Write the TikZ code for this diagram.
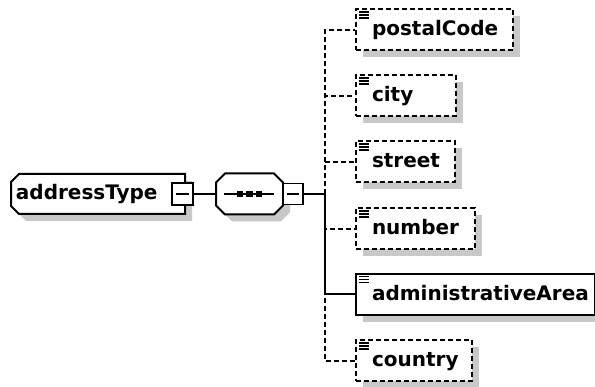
\documentclass[tikz,border=0pt]{standalone}
\usepackage{fontspec}
\setmainfont{DejaVu Sans}
\usetikzlibrary{shadows}
\definecolor{shadegray}{RGB}{200,200,200}
\begin{document}
\begin{tikzpicture}[x=1pt,y=-1pt,
  outline/.style={draw=black,fill=white,line width=2pt},
  shadeshape/.style={fill=shadegray},
  optline/.style={line width=1.9pt,dash pattern=on 5pt off 3pt},
  reqline/.style={line width=2pt},
  labelfont/.style={font=\fontsize{20}{23}\selectfont\bfseries},
  elembox/.style={labelfont,draw,fill=white,line width=2pt,
    inner xsep=0pt,inner ysep=0pt,minimum height=41pt,
    text height=15pt,text depth=3pt,align=left,anchor=west,
    execute at begin node={\hspace*{16pt}},
    drop shadow={shadow xshift=7pt,shadow yshift=-7pt,fill=shadegray,opacity=1,draw=none}},
  optbox/.style={elembox,dash pattern=on 5pt off 3pt},
  reqbox/.style={elembox},
  minusbox/.style={draw,fill=white,line width=1.8pt,inner sep=0pt},
  iconline/.style={line width=1.4pt}
]
\useasboundingbox (0,0) rectangle (595,387);

% complex type element with its shadow
\fill[shadeshape] (26,181) -- (192,181) -- (192,221) -- (26,221) -- (18,213) -- (18,189) -- cycle;
\path[outline] (19,174) -- (185,174) -- (185,214) -- (19,214) -- (11,206) -- (11,182) -- cycle;
\node[labelfont,inner sep=0pt,text width=174pt,minimum height=40pt,align=left,
      text height=15pt,text depth=3pt,execute at begin node={\hspace*{5pt}}]
      (addr) at (98,194) {addressType};
\node[minusbox,minimum width=21pt,minimum height=22pt] (addrminus) at (182.5,194) {};
\draw[line width=1.6pt] ([xshift=-6.5pt]addrminus.center) -- ([xshift=6.5pt]addrminus.center);

% sequence compositor with its shadow
\fill[shadeshape] (232,180.5) -- (281,180.5) -- (290,189.5) -- (290,212.5) -- (281,221.5) -- (232,221.5) -- (223,212.5) -- (223,189.5) -- cycle;
\path[outline] (225,173.5) -- (274,173.5) -- (283,182.5) -- (283,205.5) -- (274,214.5) -- (225,214.5) -- (216,205.5) -- (216,182.5) -- cycle;
\node[inner sep=0pt,minimum width=67pt,minimum height=41pt] (seq) at (249.5,194) {};
\draw[line width=1.8pt] ([xshift=-25.5pt]seq.center) -- ([xshift=24.5pt]seq.center);
\foreach \dx in {-9.5,0,9.5}
  \fill ([xshift=\dx pt]seq.center) ++(-3.2,-3.2) rectangle ++(6.4,6.4);
\node[minusbox,minimum width=20pt,minimum height=21pt] (seqminus) at (293,194) {};
\draw[line width=1.6pt] ([xshift=-6pt]seqminus.center) -- ([xshift=6pt]seqminus.center);

% child elements
\node[optbox,text width=157pt] (postal)  at (355,30)  {postalCode};
\node[optbox,text width=100pt] (city)    at (355,96)  {city};
\node[optbox,text width=99pt]  (street)  at (355,162) {street};
\node[optbox,text width=119pt] (number)  at (355,229) {number};
\node[reqbox,text width=239pt] (admin)   at (355,294.5) {administrativeArea};
\node[optbox,text width=116pt] (country) at (355,361) {country};

\foreach \n in {postal,city,street,number,admin,country}
  \foreach \d in {3.5,6.5,9.5}
    \draw[iconline] ([xshift=4pt,yshift=-\d pt]\n.north west) -- ++(10,0);

% connectors
\coordinate (trunk) at (325,194);
\draw[reqline] (addrminus.east) -- (seq.west);
\draw[reqline] (seqminus.east) -- (trunk);
\foreach \n in {postal,city,street,number,country}
  \draw[optline] (trunk) |- (\n.west);
\draw[reqline] (trunk) |- (admin.west);
\end{tikzpicture}
\end{document}
